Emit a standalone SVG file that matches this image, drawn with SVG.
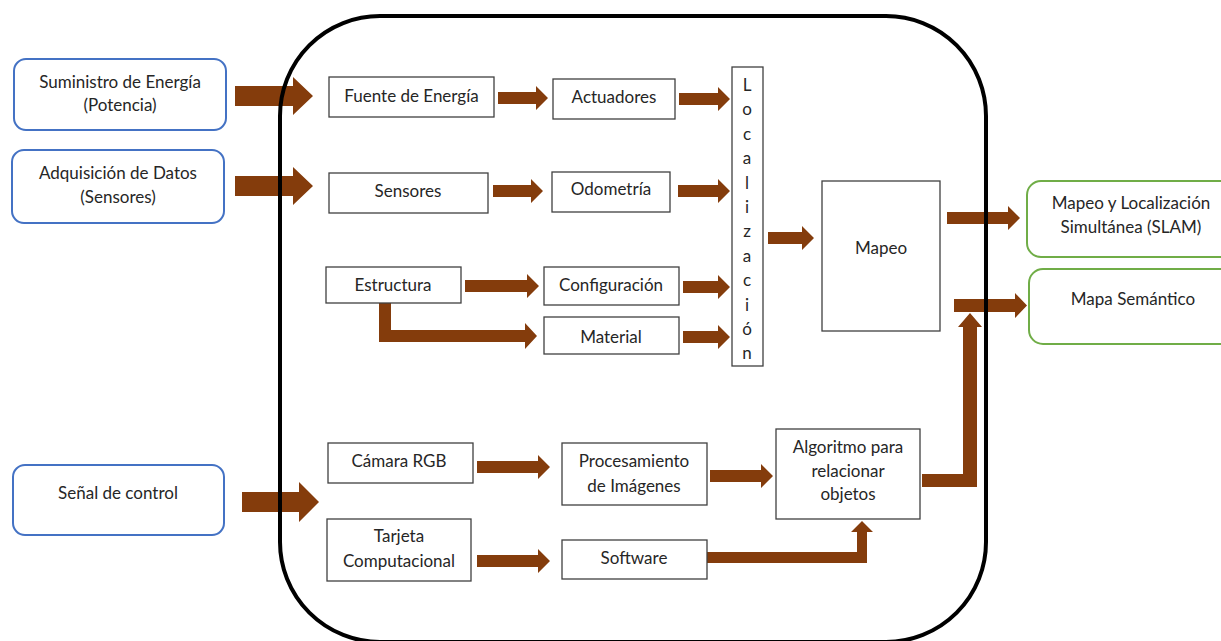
<svg xmlns="http://www.w3.org/2000/svg" width="1221" height="641" viewBox="0 0 1221 641">
<style>
text{font-family:Lato,"Open Sans","Liberation Sans",sans-serif;font-size:17px;fill:#262626;text-anchor:middle}
.box{fill:#fff;stroke:#404040;stroke-width:1.3}
.blue{fill:#fff;stroke:#4472C4;stroke-width:2}
.green{fill:#fff;stroke:#70AD47;stroke-width:2}
.arr{fill:#843C0C}
</style>
<g id="connectors">
<polygon class="arr" points="235,86 293,86 293,77 313,96 293,115 293,106 235,106"/>
<polygon class="arr" points="235,176 293,176 293,167 313,186 293,205 293,196 235,196"/>
<polygon class="arr" points="242,492 299,492 299,482 319,502 299,522 299,512 242,512"/>
<polygon class="arr" points="498,92 536,92 536,86 548,98 536,110 536,104 498,104"/>
<polygon class="arr" points="679,93 718,93 718,87 730,99 718,111 718,105 679,105"/>
<polygon class="arr" points="493,185 531,185 531,179 543,191 531,203 531,197 493,197"/>
<polygon class="arr" points="678,185 718,185 718,179 730,191 718,203 718,197 678,197"/>
<polygon class="arr" points="465,280 527,280 527,274 539,286 527,298 527,292 465,292"/>
<polygon class="arr" points="683,281 718,281 718,275 730,287 718,299 718,293 683,293"/>
<polygon class="arr" points="379,303 391,303 391,330 525,330 525,323 537,336 525,349 525,342 379,342"/>
<polygon class="arr" points="683,331 718,331 718,325 730,337 718,349 718,343 683,343"/>
<polygon class="arr" points="768,232 802,232 802,226 814,238 802,250 802,244 768,244"/>
<polygon class="arr" points="947,212 1008,212 1008,206 1020,218 1008,230 1008,224 947,224"/>
<polygon class="arr" points="954,299 1015,299 1015,293 1027,305.5 1015,318 1015,312 954,312"/>
<polygon class="arr" points="922,474 963,474 963,327 958,327 970,313 982,327 977,327 977,487 922,487"/>
<polygon class="arr" points="477,461 538,461 538,455 550,467 538,479 538,473 477,473"/>
<polygon class="arr" points="710,470 761,470 761,464 773,476 761,488 761,482 710,482"/>
<polygon class="arr" points="477,555 538,555 538,549 550,561 538,573 538,567 477,567"/>
<polygon class="arr" points="707,552 857,552 857,532 851,532 862,521 873,532 867,532 867,563 707,563"/>
</g>
<g id="container">
<rect x="280" y="16" width="706" height="626" rx="100" ry="100" fill="none" stroke="#000" stroke-width="4"/>
</g>
<g id="suministro"><rect class="blue" x="14" y="59" width="212" height="71" rx="12"/><text x="120" y="88">Suministro de Energía</text><text x="120" y="111">(Potencia)</text></g>
<g id="adquisicion"><rect class="blue" x="12" y="150" width="212" height="73" rx="12"/><text x="118" y="179">Adquisición de Datos</text><text x="118" y="203">(Sensores)</text></g>
<g id="senal"><rect class="blue" x="13" y="465" width="211" height="70" rx="12"/><text x="118" y="499">Señal de control</text></g>
<g id="slam"><rect class="green" x="1027" y="181" width="210" height="76" rx="14"/><text x="1131" y="209">Mapeo y Localización</text><text x="1131" y="233">Simultánea (SLAM)</text></g>
<g id="mapa-semantico"><rect class="green" x="1029" y="269" width="210" height="75" rx="14"/><text x="1133" y="305">Mapa Semántico</text></g>
<g id="fuente"><rect class="box" x="329" y="77" width="165" height="40"/><text x="411.5" y="102">Fuente de Energía</text></g>
<g id="actuadores"><rect class="box" x="553" y="79" width="122" height="40"/><text x="614" y="103">Actuadores</text></g>
<g id="sensores"><rect class="box" x="329" y="173" width="159" height="40"/><text x="408" y="197">Sensores</text></g>
<g id="odometria"><rect class="box" x="552" y="172" width="118" height="40"/><text x="611" y="195">Odometría</text></g>
<g id="estructura"><rect class="box" x="326" y="267" width="135" height="36"/><text x="393" y="291">Estructura</text></g>
<g id="configuracion"><rect class="box" x="544" y="267" width="135" height="38"/><text x="611" y="291">Configuración</text></g>
<g id="material"><rect class="box" x="544" y="317" width="135" height="37"/><text x="611" y="343">Material</text></g>
<g id="localizacion"><rect class="box" x="732" y="67" width="31" height="299"/>
<text x="747" y="91">L</text><text x="747" y="115">o</text><text x="747" y="140">c</text><text x="747" y="164">a</text><text x="747" y="189">l</text><text x="747" y="213">i</text><text x="747" y="237">z</text><text x="747" y="262">a</text><text x="747" y="286">c</text><text x="747" y="311">i</text><text x="747" y="335">ó</text><text x="747" y="359">n</text></g>
<g id="mapeo"><rect class="box" x="822" y="181" width="118" height="150"/><text x="881" y="254">Mapeo</text></g>
<g id="camara"><rect class="box" x="328" y="443" width="145" height="40"/><text x="399" y="467">Cámara RGB</text></g>
<g id="procesamiento"><rect class="box" x="562" y="443" width="145" height="62"/><text x="634" y="467">Procesamiento</text><text x="634" y="492">de Imágenes</text></g>
<g id="tarjeta"><rect class="box" x="327" y="519" width="144" height="62"/><text x="399" y="542">Tarjeta</text><text x="399" y="567">Computacional</text></g>
<g id="software"><rect class="box" x="562" y="540" width="145" height="39"/><text x="634" y="564">Software</text></g>
<g id="algoritmo"><rect class="box" x="776" y="429" width="144" height="90"/><text x="848" y="453">Algoritmo para</text><text x="848" y="477">relacionar</text><text x="848" y="500">objetos</text></g>
</svg>
